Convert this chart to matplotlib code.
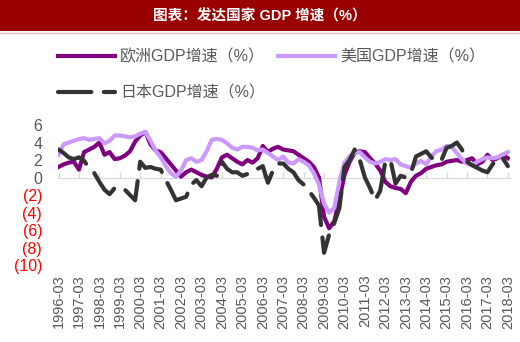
import matplotlib
matplotlib.use("Agg")
import matplotlib.pyplot as plt
from matplotlib.patches import Rectangle
from matplotlib.lines import Line2D

plt.rcParams['font.family'] = ['Liberation Sans', 'Noto Sans CJK SC', 'DejaVu Sans']

# quarterly GDP growth (%), 1996Q1 .. 2018Q1
europe = [1.2, 1.5, 1.7, 1.8, 0.9, 2.9, 3.2, 3.5, 4.0, 2.6,
          2.9, 2.1, 2.2, 2.5, 3.0, 4.1, 4.8, 5.2, 3.8, 3.1,
          2.9, 2.2, 1.5, 0.8, 0.1, 0.6, 0.9, 0.6, 0.3, 0.1,
          0.0, 1.0, 2.3, 2.6, 2.2, 1.8, 1.5, 2.0, 1.7, 2.2,
          3.6, 2.9, 3.3, 3.5, 3.2, 3.1, 3.0, 2.6, 2.2, 1.8,
          1.2, 0.0, -4.5, -5.8, -5.0, -2.5, 0.3, 1.8, 2.8, 3.0,
          2.9, 2.2, 1.6, 0.8, -0.5, -1.0, -1.2, -1.3, -1.8, -0.5,
          0.2, 0.5, 1.0, 1.2, 1.4, 1.5, 1.8, 1.9, 2.0, 1.8,
          2.0, 2.2, 1.5, 1.8, 2.6, 2.0, 2.2, 2.6, 2.2]
usa = [2.6, 3.8, 4.0, 4.2, 4.4, 4.5, 4.3, 4.4, 4.5, 3.9,
       4.2, 4.8, 4.8, 4.7, 4.6, 4.7, 5.0, 5.2, 4.2, 3.1,
       2.3, 1.3, 0.5, 0.1, 0.8, 2.0, 2.2, 1.8, 2.0, 3.0,
       4.3, 4.4, 4.3, 3.9, 3.4, 3.2, 3.5, 3.5, 3.4, 3.1,
       3.2, 2.8, 2.4, 2.0, 2.4, 1.7, 1.6, 2.1, 1.8, 1.4,
       0.5, -0.8, -3.0, -4.0, -3.5, -0.5, 1.7, 2.4, 2.8, 2.9,
       2.3, 1.8, 1.6, 1.8, 2.1, 2.0, 2.1, 1.5, 1.3, 1.1,
       1.6, 1.9, 1.5, 2.4, 3.0, 3.2, 3.6, 3.5, 2.8, 2.1,
       1.6, 1.4, 1.8, 2.1, 2.3, 2.2, 2.3, 2.6, 2.9]
japan = [3.2, 2.8, 2.3, 2.1, 2.3, 1.9, 1.1, 0.5, -0.5, -1.4,
         -1.9, -1.2, -1.1, -1.4, -2.0, -2.6, 1.8, 1.1, 1.2, 1.0,
         0.9, -0.3, -1.4, -2.6, -2.4, -2.2, -0.8, -0.3, -1.0, 0.0,
         0.3, 0.2, 1.8, 1.0, 0.6, 0.6, 0.2, 0.4, 0.6, 1.0,
         1.3, -0.6, 0.8, 1.6, 1.6, 1.0, 0.6, -0.3, -0.8, -1.5,
         -2.3, -3.2, -8.6, -6.5, -5.2, -3.5, 1.2, 2.0, 3.2, 2.0,
         0.0, -1.2, -2.6, -1.5, 1.8, 2.0, -0.7, 0.2, 0.0, 0.5,
         2.4, 2.7, 3.0, 2.3, 1.8, 2.0, 3.4, 3.6, 4.0, 3.2,
         1.8, 1.4, 1.1, 0.8, 0.6, 1.5, 2.2, 2.2, 1.3]
years = list(range(1996, 2019))
tick_labels = [f"{y}-03" for y in years]
y_ticks = [-10, -8, -6, -4, -2, 0, 2, 4, 6]

title = "图表：发达国家 GDP 增速（%）"
names = ["欧洲GDP增速（%）", "美国GDP增速（%）", "日本GDP增速（%）"]

fig = plt.figure(figsize=(5.2, 3.42), dpi=100)

# title bar
fig.patches.append(Rectangle((0, 1 - 31 / 342), 1, 31 / 342, transform=fig.transFigure,
                             facecolor="#990000", edgecolor="none"))
fig.lines.append(Line2D([0, 1], [1 - 32.5 / 342] * 2, transform=fig.transFigure,
                        color="#E6B8B7", lw=1))
fig.text(0.5, 1 - 16 / 342, title, color="white", fontsize=10.5, fontweight="bold",
         ha="center", va="center")

ax = fig.add_axes([0.1106, 0.2251, 0.871, 0.4094])
x = list(range(len(europe)))
l_eu, = ax.plot(x, europe, color="#800080", lw=3)
l_us, = ax.plot(x, usa, color="#CC99FF", lw=3)
l_jp, = ax.plot(x, japan, color="#333333", lw=3, dashes=(8, 3), dash_capstyle="round")

ax.set_xlim(-0.2, 88.5)
ax.set_ylim(-10, 6)
for s in ax.spines.values():
    s.set_visible(False)

ax.set_xticks([4 * i for i in range(len(years))])
ax.set_xticklabels(tick_labels, rotation=90, fontsize=10.5, color="#595959")
ax.tick_params(axis="x", length=0, pad=7)

ax.set_yticks(y_ticks)
ax.set_yticklabels([f"({-v})" if v < 0 else f"{v}" for v in y_ticks], fontsize=11.5)
for t, v in zip(ax.get_yticklabels(), y_ticks):
    t.set_color("#FF0000" if v < 0 else "#595959")
ax.tick_params(axis="y", length=0, pad=11)

# zero line with yearly tick marks
zero = ax.secondary_xaxis(0, transform=ax.transData)
zero.set_xticks([4 * i for i in range(len(years))])
zero.set_xticklabels([])
zero.tick_params(direction="in", length=4, color="#D9D9D9", width=1)
zero.spines["bottom"].set_color("#D9D9D9")
for k in ("top", "left", "right"):
    if k in zero.spines:
        zero.spines[k].set_visible(False)
zero.set_zorder(0)

leg = fig.legend([l_eu, l_jp, l_us], [names[0], names[2], names[1]], ncol=2,
                 loc="upper left", bbox_to_anchor=(0.083, 0.898), frameon=False,
                 fontsize=11.5, handlelength=3.6, handletextpad=0.3, columnspacing=0.8,
                 labelspacing=1.3, labelcolor="#595959")

fig.savefig("out.png", dpi=100)
